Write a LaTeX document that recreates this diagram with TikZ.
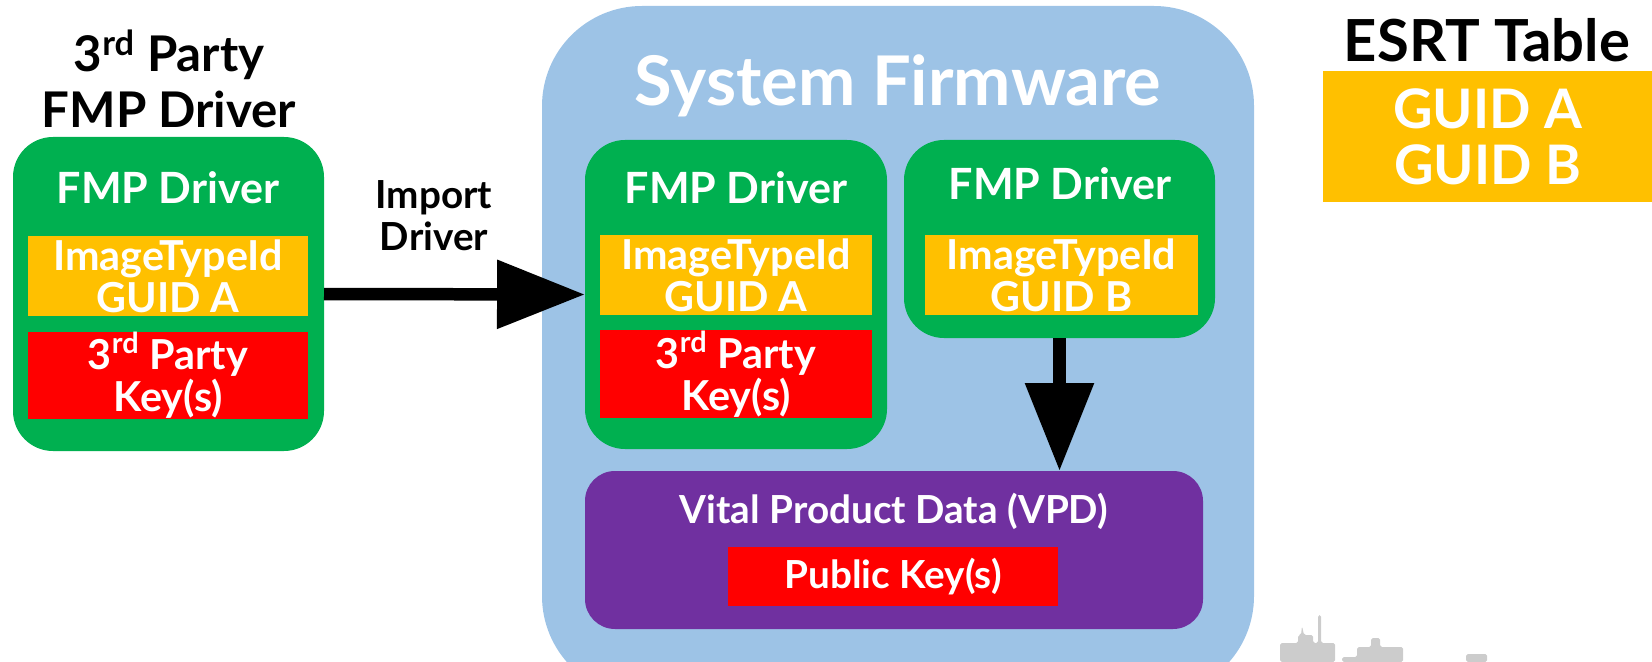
\documentclass[tikz,border=0pt]{standalone}
\usepackage{fontspec}
\setmainfont{Lato}
\usepackage{xcolor}
\usetikzlibrary{arrows.meta,positioning,calc}

\definecolor{fwblue}{HTML}{9DC3E6}
\definecolor{fmpgreen}{HTML}{00B050}
\definecolor{guidyellow}{HTML}{FFC000}
\definecolor{keyred}{HTML}{FF0000}
\definecolor{vpdpurple}{HTML}{7030A0}
\definecolor{skygrey}{HTML}{CCCCCC}

\newcommand\hdrfont{\fontsize{24.5}{28}\selectfont\bfseries}
\newcommand\inbfont{\fontsize{23.5}{24}\selectfont\bfseries}
\newcommand\ttlfont{\fontsize{28}{32}\selectfont\bfseries}
\newcommand\smlfont{\fontsize{22}{24}\selectfont\bfseries}

\tikzset{wh/.style 2 args={minimum width=#1*0.02cm, minimum height=#2*0.02cm}}

\begin{document}
\begin{tikzpicture}[x=0.02cm, y=-0.02cm, >={Triangle[length=1.76cm,width=1.32cm]}]

    \tikzstyle{box}=[inner sep=0pt, outer sep=0pt, anchor=north west, text=white, align=center]
    \tikzstyle{driver}=[box, fill=fmpgreen, rounded corners=0.8cm]
    \tikzstyle{guid}=[box, fill=guidyellow, font=\inbfont]
    \tikzstyle{key}=[box, fill=keyred, font=\inbfont]
    \tikzstyle{txt}=[text=white, align=center, inner sep=0pt]
    \tikzstyle{bigarrow}=[->, line width=0.25cm]

    \useasboundingbox (0,0) rectangle (1652,662);
    \clip (0,0) rectangle (1652,662);

    % third party driver
    \node[txt, text=black, font=\ttlfont] (tptitle) at (169,79) {3\textsuperscript{rd} Party\\FMP Driver};
    \node[driver, wh={311}{314}] (tpdrv) at (13,137) {};
    \node[txt, font=\hdrfont] (tpname) at (168,188) {FMP Driver};
    \node[guid, wh={280}{80}] (tpguid) at (28,236) {ImageTypeId\\GUID A};
    \node[key, wh={280}{87}] (tpkey) at (28,332) {3\textsuperscript{rd} Party\\Key(s)};

    % system firmware
    \node[box, fill=fwblue, rounded corners=2cm, wh={712}{690}] (sysfw) at (542,6) {};
    \node[txt, font=\fontsize{39}{44}\selectfont\bfseries] (fwname) at (898,86) {System Firmware};

    \node[driver, wh={302}{309}] (fmpa) at (585,140) {};
    \node[txt, font=\hdrfont] (fmpaname) at (736,188) {FMP Driver};
    \node[guid, wh={272}{80}] (guida) at (600,235) {ImageTypeId\\GUID A};
    \node[key, wh={272}{88}] (keya) at (600,330) {3\textsuperscript{rd} Party\\Key(s)};

    \node[driver, wh={311}{198}] (fmpb) at (904,140) {};
    \node[txt, font=\hdrfont] (fmpbname) at (1060,184) {FMP Driver};
    \node[guid, wh={273}{80}] (guidb) at (925,235) {ImageTypeId\\GUID B};

    \node[box, fill=vpdpurple, rounded corners=0.6cm, wh={618}{158}] (vpd) at (585,471) {};
    \node[txt, font=\smlfont] (vpdname) at (894,511) {Vital Product Data (VPD)};
    \node[key, wh={330}{59}, font=\smlfont] (pubkey) at (728,547) {Public Key(s)};

    % esrt
    \node[txt, text=black, font=\fontsize{33}{38}\selectfont\bfseries] (esrt) at (1487,40) {ESRT Table};
    \node[guid, wh={329}{131}, font=\fontsize{31}{32}\selectfont\bfseries] (esrtguid) at (1323,71) {GUID A\\GUID B};

    % arrows
    \draw[bigarrow] (tpdrv.east) -- (fmpa.west);
    \node[txt, text=black, font=\smlfont] (import) at (434,216) {Import\\Driver};
    \draw[bigarrow] (fmpb.south) -- (fmpb.south |- vpd.north);

    % skyline
    \fill[skygrey, rounded corners=1pt] (1280,662) -- (1280,643) -- (1298,643) -- (1298,635) -- (1301,635) -- (1302,626) -- (1304,635) -- (1313,635) -- (1313,643) -- (1318,643) -- (1318,615) -- (1321,615) -- (1321,643) -- (1335,643) -- (1335,662) -- cycle;
    \fill[skygrey, rounded corners=1pt] (1342,662) -- (1342,657) -- (1357,657) -- (1357,647) -- (1371,647) -- (1371,638) -- (1380,638) -- (1380,647) -- (1403,647) -- (1403,662) -- cycle;
    \fill[skygrey, rounded corners=1pt] (1466,662) -- (1466,654) -- (1487,654) -- (1487,662) -- cycle;
\end{tikzpicture}
\end{document}
